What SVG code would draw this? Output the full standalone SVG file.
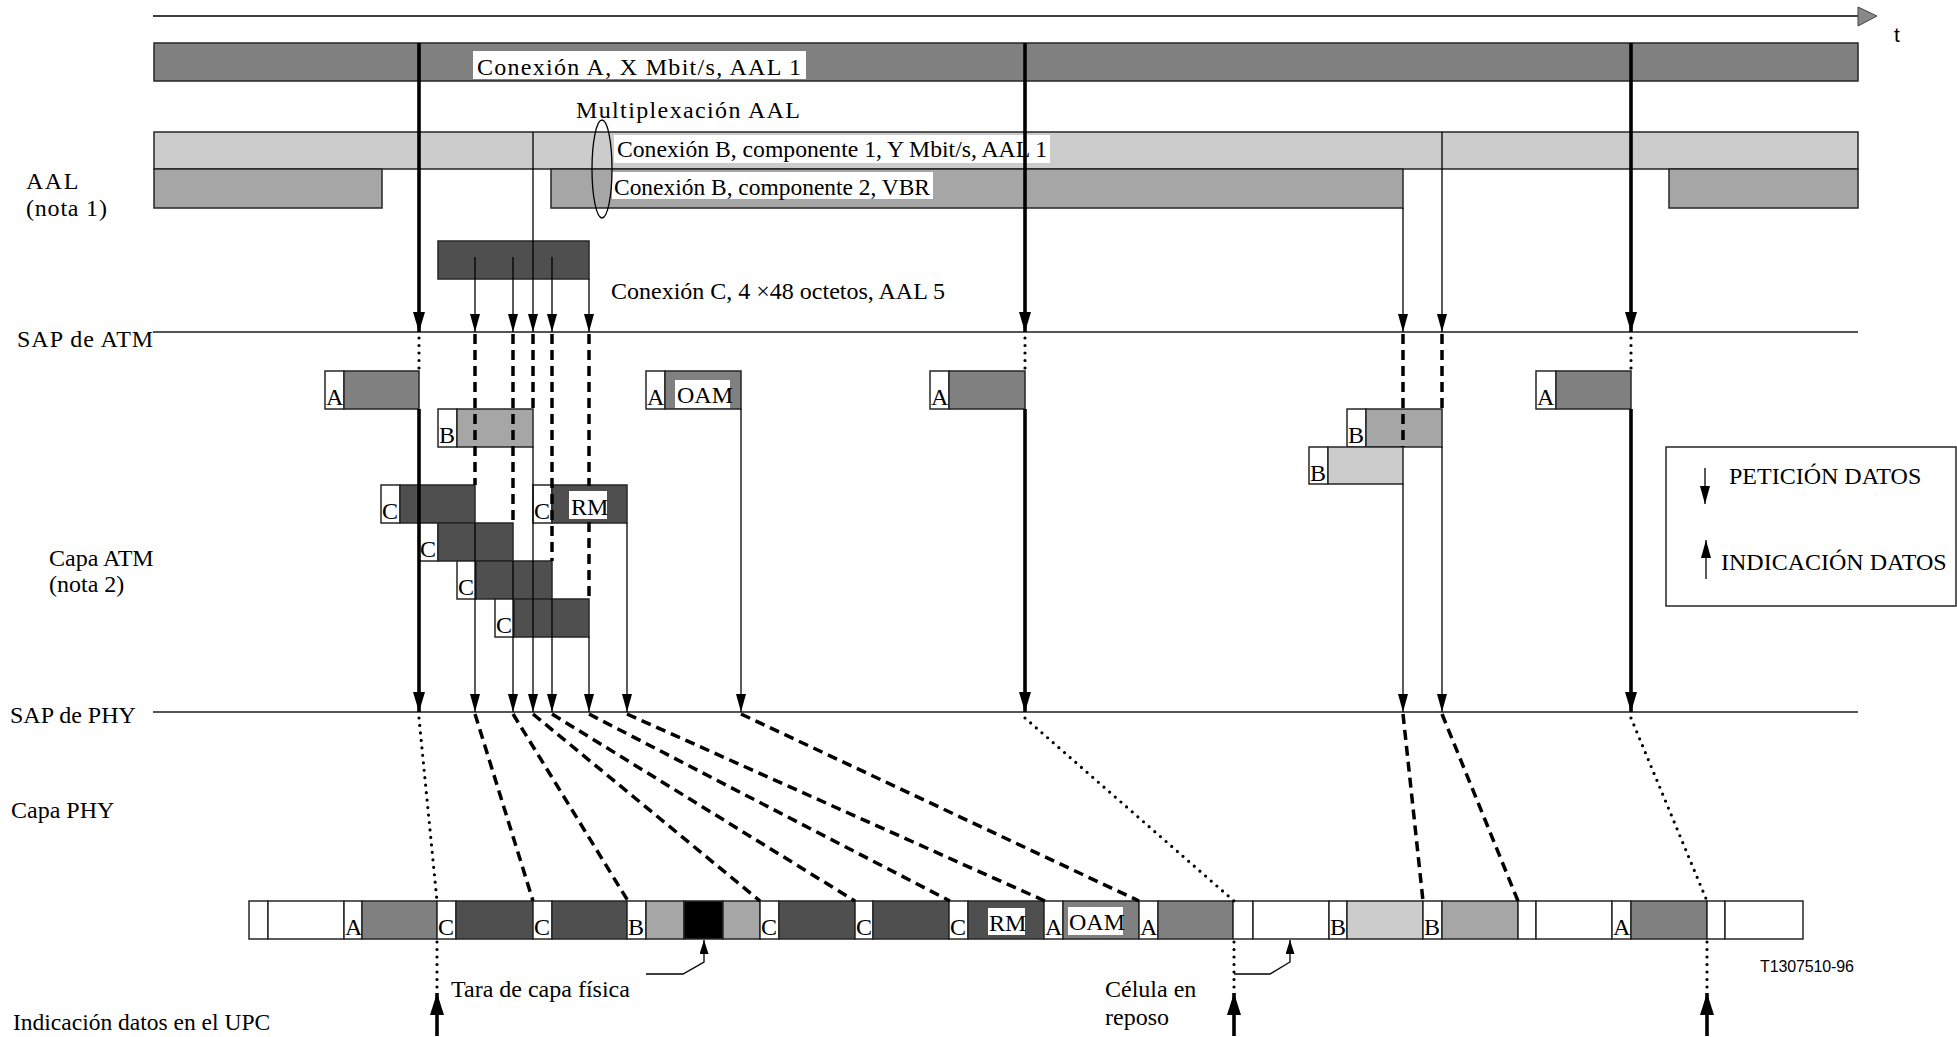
<svg xmlns="http://www.w3.org/2000/svg" width="1957" height="1037" viewBox="0 0 1957 1037">
<defs>
<marker id="ah" viewBox="0 0 18 10" refX="18" refY="5" markerWidth="18" markerHeight="10" markerUnits="userSpaceOnUse" orient="auto"><path d="M0,0 L18,5 L0,10 z" fill="#000"/></marker>
<marker id="ahk" viewBox="0 0 20 12" refX="20" refY="6" markerWidth="20" markerHeight="12" markerUnits="userSpaceOnUse" orient="auto"><path d="M0,0 L20,6 L0,12 z" fill="#000"/></marker>
<marker id="ahu" viewBox="0 0 22 14" refX="22" refY="7" markerWidth="22" markerHeight="14" markerUnits="userSpaceOnUse" orient="auto"><path d="M0,0 L22,7 L0,14 z" fill="#000"/></marker>
<marker id="ahs" viewBox="0 0 14 9" refX="14" refY="4.5" markerWidth="14" markerHeight="9" markerUnits="userSpaceOnUse" orient="auto"><path d="M0,0 L14,4.5 L0,9 z" fill="#000"/></marker>
</defs>
<style>
text{font-family:"Liberation Serif","Times New Roman",serif;font-size:24px;fill:#000}
text.sans{font-family:"Liberation Sans",Arial,sans-serif}
text.s21{font-size:21px}
text.s16{font-size:16px}
text.s235{font-size:23.5px}
rect{stroke:#262626;stroke-width:1.5}
rect.bg{stroke:none;fill:#fff}
.a{fill:#808080}.b1{fill:#cccccc}.b2{fill:#a6a6a6}.c{fill:#4f4f4f}.w{fill:#fff}.k{fill:#000}
rect.lbl{fill:#fff;stroke:none}
.thin{stroke:#000;stroke-width:1.3;fill:none}
.thick{stroke:#000;stroke-width:3.6;fill:none}
.dash{stroke:#000;stroke-width:3.5;stroke-dasharray:10 6;fill:none}
.dot{stroke:#000;stroke-width:3.2;stroke-dasharray:0 7.5;stroke-linecap:round;fill:none}
.sap{stroke:#555;stroke-width:2}
</style>
<rect class="bg" width="1957" height="1037"/>

<g id="time-axis">
<line x1="153" y1="16" x2="1858" y2="16" stroke="#000" stroke-width="1.5"/>
<path d="M1858,7 L1877,16 L1858,26 z" fill="#888" stroke="#444" stroke-width="1"/>
<text class="sans s21" x="1894" y="42">t</text>
</g>

<g id="left-labels">
<text x="26" y="189" letter-spacing="1.5">AAL</text>
<text x="26" y="216" letter-spacing="0.8">(nota 1)</text>
<text x="17" y="347" letter-spacing="1">SAP de ATM</text>
<text x="49" y="566">Capa ATM</text>
<text x="49" y="592">(nota 2)</text>
<text x="10" y="723">SAP de PHY</text>
<text x="11" y="818">Capa PHY</text>
<text class="s235" x="13" y="1030">Indicación datos en el UPC</text>
</g>

<g id="conexion-a">
<rect class="a" x="154" y="43" width="1704" height="38"/>
<rect class="lbl" x="473" y="51" width="333" height="28"/>
<text x="477" y="75" textLength="324">Conexión A, X Mbit/s, AAL 1</text>
</g>

<g id="multiplexacion">
<text x="576" y="118" textLength="224">Multiplexación AAL</text>
</g>

<g id="conexion-b1">
<rect class="b1" x="154" y="132" width="1704" height="37"/>
<rect class="lbl" x="614" y="135" width="436" height="28"/>
<text x="617" y="157" textLength="430" lengthAdjust="spacingAndGlyphs">Conexión B, componente 1, Y Mbit/s, AAL 1</text>
</g>

<g id="conexion-b2">
<rect class="b2" x="154" y="169" width="228" height="39"/>
<rect class="b2" x="551" y="169" width="852" height="39"/>
<rect class="b2" x="1669" y="169" width="189" height="39"/>
<rect class="lbl" x="612" y="172" width="321" height="27"/>
<text x="614" y="195" textLength="316" lengthAdjust="spacingAndGlyphs">Conexión B, componente 2, VBR</text>
</g>

<g id="mux-ellipse">
<ellipse cx="602" cy="169" rx="10" ry="49" fill="none" stroke="#000" stroke-width="1.3"/>
</g>

<g id="conexion-c">
<rect class="c" x="438" y="241" width="151" height="38"/>
<text x="611" y="299">Conexión C, 4 ×48 octetos, AAL 5</text>
</g>

<g id="sap-lines">
<line class="sap" x1="153" y1="332" x2="1858" y2="332"/>
<line class="sap" x1="153" y1="712" x2="1858" y2="712"/>
</g>

<g id="atm-cells">
<g id="cell-a1"><rect class="w" x="325" y="371" width="19" height="38"/><rect class="a" x="344" y="371" width="75" height="38"/><text x="326" y="405">A</text></g>
<g id="cell-oam"><rect class="w" x="646" y="371" width="19" height="38"/><rect class="a" x="665" y="371" width="76" height="38"/><rect class="lbl" x="675" y="380" width="55" height="28"/><text x="677" y="403">OAM</text><text x="647" y="405">A</text></g>
<g id="cell-a2"><rect class="w" x="930" y="371" width="19" height="38"/><rect class="a" x="949" y="371" width="76" height="38"/><text x="931" y="405">A</text></g>
<g id="cell-a3"><rect class="w" x="1536" y="371" width="20" height="38"/><rect class="a" x="1556" y="371" width="75" height="38"/><text x="1537" y="405">A</text></g>
<g id="cell-b-left"><rect class="w" x="438" y="409" width="19" height="38"/><rect class="b2" x="457" y="409" width="76" height="38"/><text x="439" y="443">B</text></g>
<g id="cell-b-right1"><rect class="w" x="1347" y="409" width="19" height="38"/><rect class="b2" x="1366" y="409" width="76" height="38"/><text x="1348" y="443">B</text></g>
<g id="cell-b-right2"><rect class="w" x="1309" y="447" width="19" height="37"/><rect class="b1" x="1328" y="447" width="75" height="37"/><text x="1310" y="481">B</text></g>
<g id="cell-c1"><rect class="w" x="381" y="485" width="19" height="38"/><rect class="c" x="400" y="485" width="75" height="38"/><text x="382" y="519">C</text></g>
<g id="cell-rm"><rect class="w" x="533" y="485" width="19" height="38"/><rect class="c" x="552" y="485" width="75" height="38"/><rect class="lbl" x="569" y="491" width="38" height="28"/><text x="571" y="515">RM</text><text x="534" y="519">C</text></g>
<g id="cell-c2"><rect class="w" x="419" y="523" width="19" height="38"/><rect class="c" x="438" y="523" width="75" height="38"/><text x="420" y="557">C</text></g>
<g id="cell-c3"><rect class="w" x="457" y="561" width="19" height="38"/><rect class="c" x="476" y="561" width="76" height="38"/><text x="458" y="595">C</text></g>
<g id="cell-c4"><rect class="w" x="495" y="599" width="19" height="38"/><rect class="c" x="514" y="599" width="75" height="38"/><text x="496" y="633">C</text></g>
</g>

<g id="phy-bar">
<rect class="w" x="249" y="901" width="19" height="38"/>
<rect class="w" x="268" y="901" width="76" height="38"/>
<rect class="w" x="344" y="901" width="18" height="38"/><rect class="a" x="362" y="901" width="75" height="38"/><text x="345" y="935">A</text>
<rect class="w" x="437" y="901" width="19" height="38"/><rect class="c" x="456" y="901" width="77" height="38"/><text x="438" y="935">C</text>
<rect class="w" x="533" y="901" width="19" height="38"/><rect class="c" x="552" y="901" width="75" height="38"/><text x="534" y="935">C</text>
<rect class="w" x="627" y="901" width="19" height="38"/><rect class="b2" x="646" y="901" width="38" height="38"/><rect class="k" x="684" y="901" width="39" height="38"/><rect class="b2" x="723" y="901" width="37" height="38"/><text x="628" y="935">B</text>
<rect class="w" x="760" y="901" width="19" height="38"/><rect class="c" x="779" y="901" width="76" height="38"/><text x="761" y="935">C</text>
<rect class="w" x="855" y="901" width="18" height="38"/><rect class="c" x="873" y="901" width="76" height="38"/><text x="856" y="935">C</text>
<rect class="w" x="949" y="901" width="19" height="38"/><rect class="c" x="968" y="901" width="76" height="38"/><rect class="lbl" x="988" y="908" width="37" height="27"/><text x="989" y="931">RM</text><text x="950" y="935">C</text>
<rect class="w" x="1044" y="901" width="19" height="38"/><rect class="a" x="1063" y="901" width="76" height="38"/><rect class="lbl" x="1068" y="907" width="55" height="28"/><text x="1069" y="930">OAM</text><text x="1045" y="935">A</text>
<rect class="w" x="1139" y="901" width="19" height="38"/><rect class="a" x="1158" y="901" width="75" height="38"/><text x="1140" y="935">A</text>
<rect class="w" x="1233" y="901" width="20" height="38"/><rect class="w" x="1253" y="901" width="76" height="38"/>
<rect class="w" x="1329" y="901" width="18" height="38"/><rect class="b1" x="1347" y="901" width="76" height="38"/><text x="1330" y="935">B</text>
<rect class="w" x="1423" y="901" width="19" height="38"/><rect class="b2" x="1442" y="901" width="76" height="38"/><text x="1424" y="935">B</text>
<rect class="w" x="1518" y="901" width="18" height="38"/><rect class="w" x="1536" y="901" width="76" height="38"/>
<rect class="w" x="1612" y="901" width="19" height="38"/><rect class="a" x="1631" y="901" width="76" height="38"/><text x="1613" y="935">A</text>
<rect class="w" x="1707" y="901" width="18" height="38"/><rect class="w" x="1725" y="901" width="78" height="38"/>
</g>

<g id="connectors">
<line class="thick" x1="419" y1="43" x2="419" y2="332" marker-end="url(#ahk)"/>
<line class="thick" x1="1025" y1="43" x2="1025" y2="332" marker-end="url(#ahk)"/>
<line class="thick" x1="1631" y1="43" x2="1631" y2="332" marker-end="url(#ahk)"/>
<line class="thin" x1="475" y1="257" x2="475" y2="332" marker-end="url(#ah)"/>
<line class="thin" x1="513" y1="257" x2="513" y2="332" marker-end="url(#ah)"/>
<line class="thin" x1="533" y1="132" x2="533" y2="332" marker-end="url(#ah)"/>
<line class="thin" x1="552" y1="257" x2="552" y2="332" marker-end="url(#ah)"/>
<line class="thin" x1="589" y1="279" x2="589" y2="332" marker-end="url(#ah)"/>
<line class="thin" x1="1403" y1="208" x2="1403" y2="332" marker-end="url(#ah)"/>
<line class="thin" x1="1442" y1="132" x2="1442" y2="332" marker-end="url(#ah)"/>
<line class="dot" x1="419" y1="338" x2="419" y2="371"/>
<line class="dot" x1="1025" y1="338" x2="1025" y2="371"/>
<line class="dot" x1="1631" y1="338" x2="1631" y2="371"/>
<line class="dash" x1="475" y1="334" x2="475" y2="485"/>
<line class="dash" x1="513" y1="334" x2="513" y2="523"/>
<line class="dash" x1="533" y1="334" x2="533" y2="409"/>
<line class="dash" x1="552" y1="334" x2="552" y2="561"/>
<line class="dash" x1="589" y1="334" x2="589" y2="486"/>
<line class="dash" x1="589" y1="522" x2="589" y2="599"/>
<line class="dash" x1="1403" y1="334" x2="1403" y2="447"/>
<line class="dash" x1="1442" y1="334" x2="1442" y2="409"/>
<line class="thick" x1="419" y1="409" x2="419" y2="712" marker-end="url(#ahk)"/>
<line class="thick" x1="1025" y1="409" x2="1025" y2="712" marker-end="url(#ahk)"/>
<line class="thick" x1="1631" y1="409" x2="1631" y2="712" marker-end="url(#ahk)"/>
<line class="thin" x1="475" y1="523" x2="475" y2="712" marker-end="url(#ah)"/>
<line class="thin" x1="513" y1="561" x2="513" y2="712" marker-end="url(#ah)"/>
<line class="thin" x1="533" y1="447" x2="533" y2="712" marker-end="url(#ah)"/>
<line class="thin" x1="552" y1="599" x2="552" y2="712" marker-end="url(#ah)"/>
<line class="thin" x1="589" y1="637" x2="589" y2="712" marker-end="url(#ah)"/>
<line class="thin" x1="627" y1="523" x2="627" y2="712" marker-end="url(#ah)"/>
<line class="thin" x1="741" y1="409" x2="741" y2="712" marker-end="url(#ah)"/>
<line class="thin" x1="1403" y1="484" x2="1403" y2="712" marker-end="url(#ah)"/>
<line class="thin" x1="1442" y1="447" x2="1442" y2="712" marker-end="url(#ah)"/>
<line class="dot" x1="419" y1="718" x2="437" y2="901"/>
<line class="dot" x1="1025" y1="718" x2="1234" y2="901"/>
<line class="dot" x1="1631" y1="718" x2="1707" y2="901"/>
<line class="dash" x1="475" y1="714" x2="533" y2="901"/>
<line class="dash" x1="513" y1="714" x2="628" y2="901"/>
<line class="dash" x1="533" y1="714" x2="760" y2="901"/>
<line class="dash" x1="552" y1="714" x2="855" y2="901"/>
<line class="dash" x1="589" y1="714" x2="950" y2="901"/>
<line class="dash" x1="627" y1="714" x2="1045" y2="901"/>
<line class="dash" x1="741" y1="714" x2="1139" y2="901"/>
<line class="dash" x1="1403" y1="714" x2="1423" y2="901"/>
<line class="dash" x1="1442" y1="714" x2="1518" y2="901"/>
<line class="dot" x1="437" y1="942" x2="437" y2="992"/>
<line class="dot" x1="1234" y1="942" x2="1234" y2="992"/>
<line class="dot" x1="1707" y1="942" x2="1707" y2="992"/>
<line class="thick" x1="437" y1="1036" x2="437" y2="993" marker-end="url(#ahu)"/>
<line class="thick" x1="1234" y1="1036" x2="1234" y2="993" marker-end="url(#ahu)"/>
<line class="thick" x1="1707" y1="1036" x2="1707" y2="993" marker-end="url(#ahu)"/>
<polyline class="thin" points="646,974 683,974 704,962 704,940" marker-end="url(#ahs)"/>
<polyline class="thin" points="1234,974 1270,974 1290,962 1290,940" marker-end="url(#ahs)"/>
</g>

<g id="annotations">
<text x="451" y="997">Tara de capa física</text>
<text x="1105" y="997">Célula en</text>
<text x="1105" y="1025">reposo</text>
<text class="sans s16" x="1760" y="972" textLength="94">T1307510-96</text>
</g>

<g id="legend">
<rect x="1666" y="447" width="290" height="159" fill="#fff" stroke="#222" stroke-width="1.5"/>
<line class="thin" x1="1705" y1="468" x2="1705" y2="504" marker-end="url(#ah)"/>
<text x="1729" y="484">PETICIÓN DATOS</text>
<line class="thin" x1="1706" y1="579" x2="1706" y2="540" marker-end="url(#ah)"/>
<text x="1721" y="570">INDICACIÓN DATOS</text>
</g>
</svg>
